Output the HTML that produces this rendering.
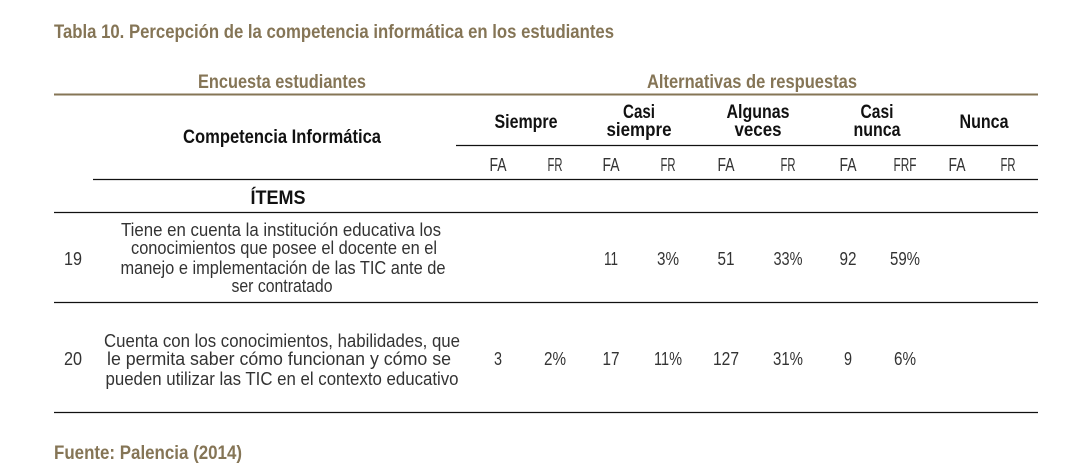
<!DOCTYPE html>
<html><head><meta charset="utf-8"><style>
html,body{margin:0;padding:0;background:#fff;}
svg{display:block;}
text{font-family:"Liberation Sans Narrow","Liberation Sans",sans-serif;}
.t{fill:#857556;font-weight:bold;font-size:19px;}
.h{fill:#111;font-weight:bold;font-size:19px;}
.b{fill:#333;font-size:18px;}
</style></head><body>
<svg width="1073" height="472" viewBox="0 0 1073 472">
<text class="t" x="54" y="38" textLength="560" lengthAdjust="spacingAndGlyphs">Tabla 10. Percepción de la competencia informática en los estudiantes</text>
<text class="t" x="282" y="88" text-anchor="middle" textLength="168" lengthAdjust="spacingAndGlyphs">Encuesta estudiantes</text>
<text class="t" x="752" y="88" text-anchor="middle" textLength="210" lengthAdjust="spacingAndGlyphs">Alternativas de respuestas</text>
<line x1="54" y1="94.5" x2="1038" y2="94.5" stroke="#857556" stroke-width="2"/>
<text class="h" x="282" y="143" text-anchor="middle" textLength="198" lengthAdjust="spacingAndGlyphs">Competencia Informática</text>
<g>
<text class="h" x="526" y="128" text-anchor="middle" textLength="63" lengthAdjust="spacingAndGlyphs">Siempre</text>
<text class="h" x="639" y="118" text-anchor="middle" textLength="32" lengthAdjust="spacingAndGlyphs">Casi</text>
<text class="h" x="639" y="136" text-anchor="middle" textLength="65" lengthAdjust="spacingAndGlyphs">siempre</text>
<text class="h" x="758" y="118" text-anchor="middle" textLength="63" lengthAdjust="spacingAndGlyphs">Algunas</text>
<text class="h" x="758" y="136" text-anchor="middle" textLength="47" lengthAdjust="spacingAndGlyphs">veces</text>
<text class="h" x="877" y="118" text-anchor="middle" textLength="33" lengthAdjust="spacingAndGlyphs">Casi</text>
<text class="h" x="877" y="136" text-anchor="middle" textLength="47" lengthAdjust="spacingAndGlyphs">nunca</text>
<text class="h" x="984" y="128" text-anchor="middle" textLength="49" lengthAdjust="spacingAndGlyphs">Nunca</text>
</g>
<line x1="456" y1="145.5" x2="1038" y2="145.5" stroke="#111" stroke-width="1.3"/>
<g>
<text class="b" x="498" y="171" text-anchor="middle" textLength="17" lengthAdjust="spacingAndGlyphs">FA</text>
<text class="b" x="555" y="171" text-anchor="middle" textLength="15" lengthAdjust="spacingAndGlyphs">FR</text>
<text class="b" x="611" y="171" text-anchor="middle" textLength="17" lengthAdjust="spacingAndGlyphs">FA</text>
<text class="b" x="668" y="171" text-anchor="middle" textLength="15" lengthAdjust="spacingAndGlyphs">FR</text>
<text class="b" x="726" y="171" text-anchor="middle" textLength="17" lengthAdjust="spacingAndGlyphs">FA</text>
<text class="b" x="788" y="171" text-anchor="middle" textLength="15" lengthAdjust="spacingAndGlyphs">FR</text>
<text class="b" x="848" y="171" text-anchor="middle" textLength="17" lengthAdjust="spacingAndGlyphs">FA</text>
<text class="b" x="905" y="171" text-anchor="middle" textLength="23" lengthAdjust="spacingAndGlyphs">FRF</text>
<text class="b" x="957" y="171" text-anchor="middle" textLength="17" lengthAdjust="spacingAndGlyphs">FA</text>
<text class="b" x="1008" y="171" text-anchor="middle" textLength="15" lengthAdjust="spacingAndGlyphs">FR</text>
</g>
<line x1="93" y1="179.5" x2="1038" y2="179.5" stroke="#111" stroke-width="1.3"/>
<text class="h" x="278" y="204" text-anchor="middle" textLength="55" lengthAdjust="spacingAndGlyphs">ÍTEMS</text>
<line x1="54" y1="212.5" x2="1038" y2="212.5" stroke="#111" stroke-width="1.3"/>
<g>
<text class="b" x="73" y="265" text-anchor="middle" textLength="18" lengthAdjust="spacingAndGlyphs">19</text>
<text class="b" x="281" y="236" text-anchor="middle" textLength="320" lengthAdjust="spacingAndGlyphs">Tiene en cuenta la institución educativa los</text>
<text class="b" x="284" y="254" text-anchor="middle" textLength="306" lengthAdjust="spacingAndGlyphs">conocimientos que posee el docente en el</text>
<text class="b" x="283" y="274" text-anchor="middle" textLength="325" lengthAdjust="spacingAndGlyphs">manejo e implementación de las TIC ante de</text>
<text class="b" x="282" y="292" text-anchor="middle" textLength="101" lengthAdjust="spacingAndGlyphs">ser contratado</text>
<text class="b" x="611" y="265" text-anchor="middle" textLength="14" lengthAdjust="spacingAndGlyphs">11</text>
<text class="b" x="668" y="265" text-anchor="middle" textLength="22" lengthAdjust="spacingAndGlyphs">3%</text>
<text class="b" x="726" y="265" text-anchor="middle" textLength="17" lengthAdjust="spacingAndGlyphs">51</text>
<text class="b" x="788" y="265" text-anchor="middle" textLength="29" lengthAdjust="spacingAndGlyphs">33%</text>
<text class="b" x="848" y="265" text-anchor="middle" textLength="17" lengthAdjust="spacingAndGlyphs">92</text>
<text class="b" x="905" y="265" text-anchor="middle" textLength="30" lengthAdjust="spacingAndGlyphs">59%</text>
</g>
<line x1="54" y1="302.5" x2="1038" y2="302.5" stroke="#111" stroke-width="1.3"/>
<g>
<text class="b" x="73" y="365" text-anchor="middle" textLength="18" lengthAdjust="spacingAndGlyphs">20</text>
<text class="b" x="282" y="347" text-anchor="middle" textLength="356" lengthAdjust="spacingAndGlyphs">Cuenta con los conocimientos, habilidades, que</text>
<text class="b" x="279" y="365" text-anchor="middle" textLength="344" lengthAdjust="spacingAndGlyphs">le permita saber cómo funcionan y cómo se</text>
<text class="b" x="282" y="385" text-anchor="middle" textLength="353" lengthAdjust="spacingAndGlyphs">pueden utilizar las TIC en el contexto educativo</text>
<text class="b" x="498" y="365" text-anchor="middle" textLength="8" lengthAdjust="spacingAndGlyphs">3</text>
<text class="b" x="555" y="365" text-anchor="middle" textLength="22" lengthAdjust="spacingAndGlyphs">2%</text>
<text class="b" x="611" y="365" text-anchor="middle" textLength="17" lengthAdjust="spacingAndGlyphs">17</text>
<text class="b" x="668" y="365" text-anchor="middle" textLength="28" lengthAdjust="spacingAndGlyphs">11%</text>
<text class="b" x="726" y="365" text-anchor="middle" textLength="26" lengthAdjust="spacingAndGlyphs">127</text>
<text class="b" x="788" y="365" text-anchor="middle" textLength="30" lengthAdjust="spacingAndGlyphs">31%</text>
<text class="b" x="848" y="365" text-anchor="middle" textLength="8" lengthAdjust="spacingAndGlyphs">9</text>
<text class="b" x="905" y="365" text-anchor="middle" textLength="22" lengthAdjust="spacingAndGlyphs">6%</text>
</g>
<line x1="54" y1="412.5" x2="1038" y2="412.5" stroke="#111" stroke-width="1.3"/>
<text class="t" x="54" y="459" textLength="188" lengthAdjust="spacingAndGlyphs">Fuente: Palencia (2014)</text>
</svg>
</body></html>
